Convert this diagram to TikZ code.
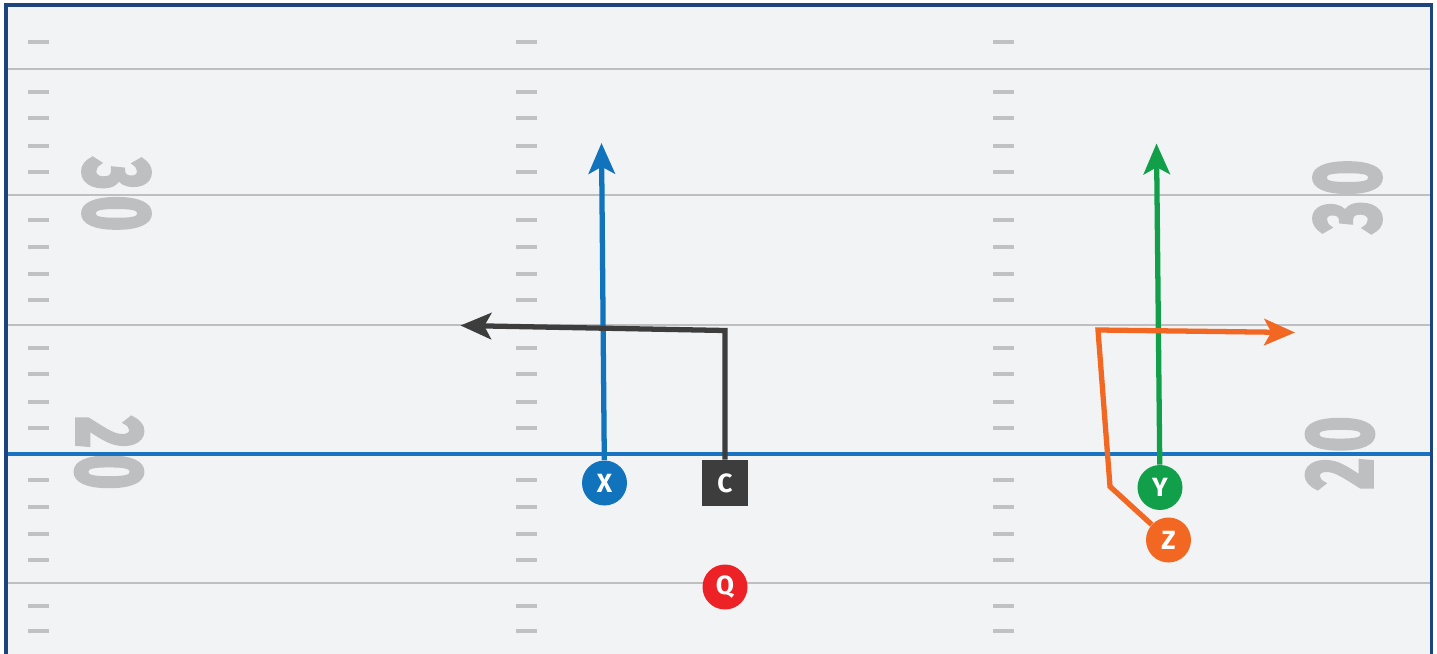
\documentclass[tikz,border=0pt]{standalone}
\usepackage{fontspec}
\usepackage{graphicx}
\usepackage{xcolor}
\usepackage{tikz}
\usetikzlibrary{arrows.meta}
\newfontfamily\fieldfont{Fira Sans}
\newfontfamily\numfont{Fira Sans}[BoldFeatures={FakeBold=4}]
\definecolor{fieldbg}{RGB}{241, 243, 245}
\definecolor{framenavy}{RGB}{30, 68, 128}
\definecolor{yardgray}{RGB}{190, 191, 193}
\definecolor{hashgray}{RGB}{192, 193, 195}
\definecolor{losblue}{RGB}{26, 115, 192}
\definecolor{xblue}{RGB}{17, 115, 188}
\definecolor{cdark}{RGB}{61, 61, 61}
\definecolor{qred}{RGB}{237, 34, 39}
\definecolor{ygreen}{RGB}{17, 160, 73}
\definecolor{zorange}{RGB}{242, 103, 34}

\begin{document}
\begin{tikzpicture}[
    yardline/.style={line width=1.6pt, color=yardgray},
    hashmark/.style={line width=1.9pt, color=hashgray},
    yardnum/.style={inner sep=0pt, text=yardgray,
                    font={\numfont\bfseries\fontsize{54}{60}\selectfont}},
    player/.style={circle, minimum size=0.9cm, inner sep=0pt, text=white,
                   font={\fieldfont\bfseries\fontsize{15}{18}\selectfont}},
    snapbox/.style={rectangle, minimum size=0.92cm, inner sep=0pt, fill=cdark,
                    text=white, font={\fieldfont\bfseries\fontsize{15}{18}\selectfont}},
    route/.style={line width=3pt,
                  -{Stealth[length=17.5pt, width=15pt, inset=4pt]}}]

    \useasboundingbox (0,0) rectangle (28.74,-13.08);
    \fill[white] (0,0) rectangle (28.74,-13.08);
    \fill[fieldbg] (0.12,-0.10) rectangle (28.63,-13.08);

    % Linii de yard
    \foreach \y in {-1.38,-3.90,-6.50,-11.66}
        \draw[yardline] (0.12,\y) -- (28.63,\y);

    % Marcaje hash
    \foreach \y in {-0.84,-1.84,-2.36,-2.92,-3.44,-4.40,-4.94,-5.48,-6.00,
                    -6.96,-7.48,-8.04,-8.56,-9.60,-10.14,-10.68,-11.20,
                    -12.12,-12.62}
        \foreach \x in {0.56,10.32,19.86}
            \draw[hashmark] (\x,\y) -- ++(0.41,0);

    % Numere
    \node[yardnum, rotate=-90] (num30l) at (2.33,-3.89)
        {\scalebox{0.63}[1]{3\kern6pt0}};
    \node[yardnum, rotate=-90] (num20l) at (2.18,-9.06)
        {\scalebox{0.63}[1]{2\kern6pt0}};
    \node[yardnum, rotate=90] (num30r) at (26.95,-3.93)
        {\scalebox{0.63}[1]{3\kern6pt0}};
    \node[yardnum, rotate=90] (num20r) at (26.80,-9.06)
        {\scalebox{0.63}[1]{2\kern6pt0}};

    % Linia de scrimmage si cadrul
    \draw[line width=2pt, color=losblue] (0.12,-9.08) -- (28.63,-9.08);
    \draw[line width=2.2pt, color=framenavy]
        (0.12,-13.08) -- (0.12,-0.10) -- (28.63,-0.10) -- (28.63,-13.08);

    % Puncte de traseu
    \coordinate (xtip) at (12.03,-2.86);
    \coordinate (cturn) at (14.50,-6.61);
    \coordinate (ctip) at (9.21,-6.51);
    \coordinate (ytip) at (23.13,-2.87);
    \coordinate (zturn1) at (22.20,-9.73);
    \coordinate (zturn2) at (21.96,-6.60);
    \coordinate (ztip) at (25.90,-6.65);

    % Jucatori
    \node[player, fill=xblue]   (X) at (12.09,-9.66) {X};
    \node[snapbox]              (C) at (14.50,-9.66) {C};
    \node[player, fill=qred]    (Q) at (14.50,-11.74) {Q};
    \node[player, fill=ygreen]  (Y) at (23.20,-9.75) {Y};
    \node[player, fill=zorange] (Z) at (23.37,-10.80) {Z};

    % Trasee
    \draw[route, color=xblue] (X) -- (xtip);
    \draw[route, color=cdark] (C) -- (cturn) -- (ctip);
    \draw[route, color=ygreen] (Y) -- (ytip);
    \draw[route, color=zorange] (Z) -- (zturn1) -- (zturn2) -- (ztip);

\end{tikzpicture}
\end{document}
